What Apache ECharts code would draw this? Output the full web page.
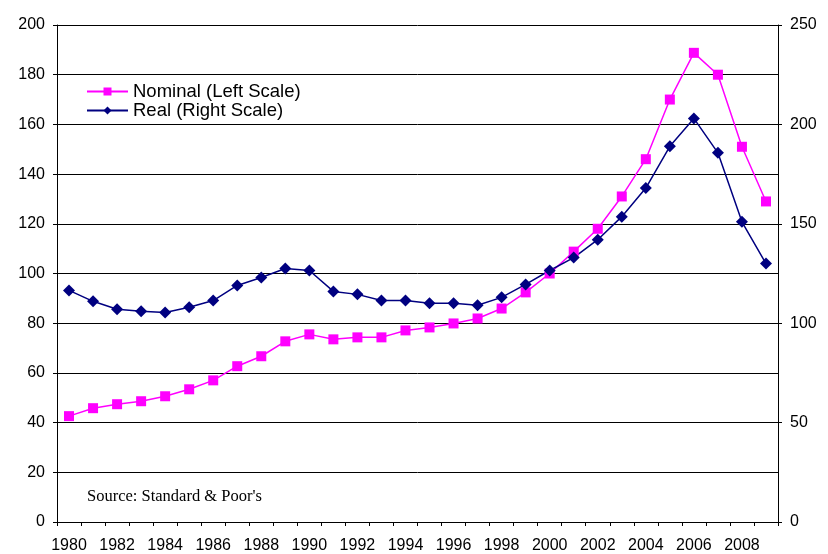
<!DOCTYPE html>
<html><head><meta charset="utf-8">
<script src="https://cdn.jsdelivr.net/npm/echarts@6/dist/echarts.min.js"></script>
<style>html,body{margin:0;padding:0;background:#fff}#c{width:828px;height:554px}</style>
</head><body><div id="c"></div>
<script>
const years = ['1980','1981','1982','1983','1984','1985','1986','1987','1988','1989','1990','1991','1992','1993','1994','1995','1996','1997','1998','1999','2000','2001','2002','2003','2004','2005','2006','2007','2008','2009'];
const nominal = [42.6,45.8,47.4,48.6,50.6,53.4,57,62.7,66.7,72.7,75.5,73.5,74.3,74.3,77.1,78.3,79.9,81.9,85.9,92.4,100,108.8,118,131,146,170,188.8,180,151,129];
const real = [116.5,111,107,106,105.4,108,111.4,119,123,127.5,126.5,116,114.5,111.4,111.4,110,110,109,113,119.5,126.5,133,142,153.6,168,189,203,185.7,151,130];
const leftTicks = {min:0,max:200,interval:20};
const rightTicks = {min:0,max:250,interval:50};
const sourceNote = "Source: Standard & Poor's";

const chart = echarts.init(document.getElementById('c'));
const lbl = {color:'#000',fontFamily:'Liberation Sans, Arial, sans-serif',fontSize:16};
chart.setOption({
  animation:false,
  backgroundColor:'#fff',
  grid:{left:57,right:50,top:25,bottom:31},
  legend:{
    orient:'vertical',left:86,top:82,itemGap:0,itemWidth:41,itemHeight:10,padding:0,
    textStyle:{color:'#000',fontFamily:'Liberation Sans, Arial, sans-serif',fontSize:18.5,lineHeight:18},
    data:['Nominal (Left Scale)','Real (Right Scale)']
  },
  graphic:[{type:'text',left:87,top:488,style:{text:sourceNote,fill:'#000',font:'16.5px "Liberation Serif", "Times New Roman", serif'}}],
  xAxis:{
    type:'category',data:years,boundaryGap:true,
    axisLine:{lineStyle:{color:'#000',width:1}},
    axisTick:{show:true,interval:0,length:4,lineStyle:{color:'#000'}},
    axisLabel:Object.assign({interval:1,margin:16},lbl),
    splitLine:{show:false}
  },
  yAxis:[
    {type:'value',min:leftTicks.min,max:leftTicks.max,interval:leftTicks.interval,position:'left',
     axisLine:{show:true,lineStyle:{color:'#000',width:1}},
     axisTick:{show:true,length:4,lineStyle:{color:'#000'}},
     axisLabel:Object.assign({margin:12},lbl),
     splitLine:{show:true,lineStyle:{color:'#000',width:1}}},
    {type:'value',min:rightTicks.min,max:rightTicks.max,interval:rightTicks.interval,position:'right',
     axisLine:{show:true,lineStyle:{color:'#000',width:1}},
     axisTick:{show:true,length:4,lineStyle:{color:'#000'}},
     axisLabel:Object.assign({margin:12},lbl),
     splitLine:{show:false}}
  ],
  series:[
    {name:'Nominal (Left Scale)',type:'line',yAxisIndex:0,data:nominal,
     symbol:'rect',symbolSize:10,itemStyle:{color:'#ff00ff'},lineStyle:{color:'#ff00ff',width:1.5}},
    {name:'Real (Right Scale)',type:'line',yAxisIndex:1,data:real,
     symbol:'diamond',symbolSize:12,itemStyle:{color:'#000080'},lineStyle:{color:'#000080',width:1.5}}
  ]
});
</script></body></html>
